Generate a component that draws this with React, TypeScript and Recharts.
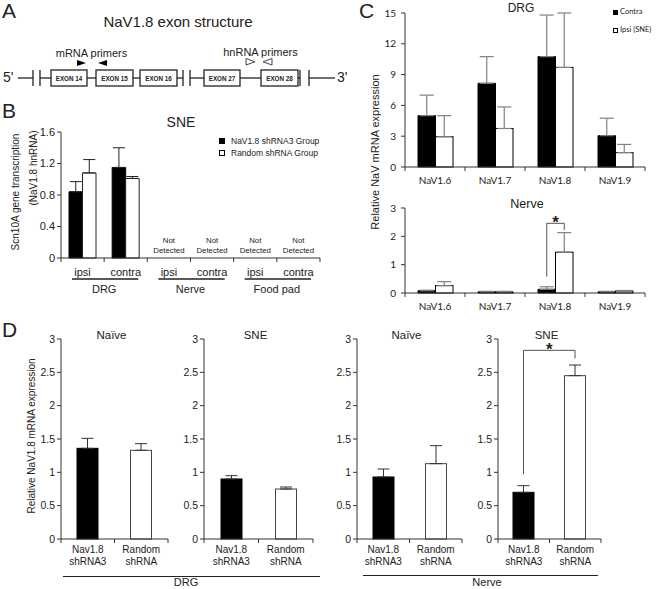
import React from 'react';
import { BarChart, Bar, XAxis, YAxis, ErrorBar, Cell, Legend } from 'recharts';

const FONT = '"Liberation Sans", Arial, Helvetica, sans-serif';
const CAL = 'Lato, "Liberation Sans", sans-serif';
const INK = '#222';
const AX = '#333';

// ---------- Panel B data ----------
const bTissues = ['DRG', 'DRG', 'Nerve', 'Nerve', 'Food pad', 'Food pad'];
const bSides = ['ipsi', 'contra', 'ipsi', 'contra', 'ipsi', 'contra'];
const bDetected = [true, true, false, false, false, false];
const bShRNA3 = [0.84, 1.15, null, null, null, null];
const bShRNA3Sd = [0.13, 0.25, null, null, null, null];
const bRandom = [1.08, 1.01, null, null, null, null];
const bRandomSd = [0.17, 0.025, null, null, null, null];
const bTicks = [0, 0.4, 0.8, 1.2, 1.6];
const bNames = ['NaV1.8 shRNA3 Group', 'Random shRNA Group'];

// ---------- Panel C data ----------
const cChannels = ['NaV1.6', 'NaV1.7', 'NaV1.8', 'NaV1.9'];
const cDrgContra = [5.0, 8.15, 10.75, 3.05];
const cDrgContraSd = [2.0, 2.6, 4.05, 1.7];
const cDrgIpsi = [2.95, 3.75, 9.7, 1.4];
const cDrgIpsiSd = [2.05, 2.1, 5.3, 0.8];
const cNerveContra = [0.08, 0.04, 0.13, 0.04];
const cNerveContraSd = [0.02, 0.02, 0.09, 0.02];
const cNerveIpsi = [0.26, 0.04, 1.44, 0.07];
const cNerveIpsiSd = [0.14, 0.02, 0.69, 0.02];
const cDrgTicks = [0, 3, 6, 9, 12, 15];
const cNerveTicks = [0, 1, 2, 3];
const cNames = ['Contra', 'Ipsi (SNE)'];
// significance bracket (category index, left low, top, right low) in data units
const cNerveSig = [2, 0.58, 2.46, 2.22];

// ---------- Panel D data ----------
const dLine1 = ['Nav1.8', 'Random'];
const dLine2 = ['shRNA3', 'shRNA'];
const dDrgNaive = [1.36, 1.33];
const dDrgNaiveSd = [0.15, 0.1];
const dDrgSne = [0.9, 0.75];
const dDrgSneSd = [0.05, 0.03];
const dNerveNaive = [0.93, 1.13];
const dNerveNaiveSd = [0.12, 0.27];
const dNerveSne = [0.7, 2.45];
const dNerveSneSd = [0.1, 0.16];
const dTicks = [0, 0.5, 1, 1.5, 2, 2.5, 3];
const dNerveSneSig = [1, 0.97, 2.83, 2.71];

// ---------- tables ----------
const bData = bSides.map((s, i) => ({
  key: `${bTissues[i]}-${s}`,
  side: s,
  tissue: bTissues[i],
  detected: bDetected[i],
  sh: bShRNA3[i],
  shErr: bShRNA3Sd[i] == null ? null : [0, bShRNA3Sd[i]],
  rnd: bRandom[i],
  rndErr: bRandomSd[i] == null ? null : [0, bRandomSd[i]],
}));

const cMake = (contra: number[], contraSd: number[], ipsi: number[], ipsiSd: number[]) =>
  cChannels.map((c, i) => ({
    key: c,
    contra: contra[i],
    contraErr: [0, contraSd[i]],
    ipsi: ipsi[i],
    ipsiErr: [0, ipsiSd[i]],
  }));
const cDrgData = cMake(cDrgContra, cDrgContraSd, cDrgIpsi, cDrgIpsiSd);
const cNerveData = cMake(cNerveContra, cNerveContraSd, cNerveIpsi, cNerveIpsiSd);

const dMake = (vals: number[], sds: number[]) =>
  dLine1.map((l1, i) => ({ key: `${l1} ${dLine2[i]}`, l1, l2: dLine2[i], value: vals[i], err: [0, sds[i]] }));
const dCharts = [
  { title: 'Naïve', data: dMake(dDrgNaive, dDrgNaiveSd), L: 61, R: 168, sig: null as any },
  { title: 'SNE', data: dMake(dDrgSne, dDrgSneSd), L: 204, R: 313, sig: null as any },
  { title: 'Naïve', data: dMake(dNerveNaive, dNerveNaiveSd), L: 357, R: 462, sig: null as any },
  { title: 'SNE', data: dMake(dNerveSne, dNerveSneSd), L: 498, R: 601, sig: dNerveSneSig },
];
const dFills = ['#000', '#fff'];
const dStrokes = ['#000', '#444'];

// ---------- layout helpers ----------
type Geo = { L: number; R: number; T: number; B: number; yW: number; mT: number; xH: number; mR: number };
const frame = (g: Geo) => ({
  left: g.L - g.yW,
  top: g.T - g.mT,
  width: g.yW + (g.R - g.L) + g.mR,
  height: g.mT + (g.B - g.T) + g.xH,
});

const bGeo: Geo = { L: 61, R: 320, T: 132, B: 258, yW: 30, mT: 8, xH: 42, mR: 4 };
const cGeo1: Geo = { L: 405, R: 645, T: 13, B: 167, yW: 30, mT: 6, xH: 24, mR: 4 };
const cGeo2: Geo = { L: 405, R: 645, T: 208, B: 293, yW: 30, mT: 6, xH: 24, mR: 4 };

// ---------- ticks ----------
const makeBTick = (band: number, n: number) => (p: any) => {
  const { x, y, index } = p;
  const d = bData[index];
  return (
    <g>
      <line x1={x - band / 2} x2={x - band / 2} y1={y} y2={y + 4} stroke={AX} />
      {index === n - 1 && <line x1={x + band / 2} x2={x + band / 2} y1={y} y2={y + 4} stroke={AX} />}
      <text x={x} y={y + 18} textAnchor="middle" fontSize={11} fill={INK}>{d.side}</text>
      {!d.detected && (
        <g>
          <text x={x} y={y - 15.3} textAnchor="middle" fontSize={7.8} fill={INK}>Not</text>
          <text x={x} y={y - 4.6} textAnchor="middle" fontSize={7.8} fill={INK}>Detected</text>
        </g>
      )}
      {index % 2 === 0 && (
        <g>
          <line x1={x - band / 2 + 11} x2={x + band * 1.5 - 9} y1={y + 21} y2={y + 21} stroke="#222" strokeWidth={1.5} />
          <text x={x + band / 2} y={y + 35} textAnchor="middle" fontSize={11} fill={INK}>{d.tissue}</text>
        </g>
      )}
    </g>
  );
};

const makeCTick = (band: number, n: number) => (p: any) => {
  const { x, y, index, payload } = p;
  return (
    <g>
      <line x1={x - band / 2} x2={x - band / 2} y1={y} y2={y + 4} stroke={AX} />
      {index === n - 1 && <line x1={x + band / 2} x2={x + band / 2} y1={y} y2={y + 4} stroke={AX} />}
      <text x={x} y={y + 17} textAnchor="middle" fontSize={10} fontFamily={CAL} fill={INK}>{payload.value}</text>
    </g>
  );
};

const makeDTick = (data: any[], band: number, n: number) => (p: any) => {
  const { x, y, index } = p;
  const d = data[index];
  return (
    <g>
      <line x1={x - band / 2} x2={x - band / 2} y1={y} y2={y + 4} stroke={AX} />
      {index === n - 1 && <line x1={x + band / 2} x2={x + band / 2} y1={y} y2={y + 4} stroke={AX} />}
      <text x={x} y={y + 13.5} textAnchor="middle" fontSize={10} fill={INK}>{d.l1}</text>
      <text x={x} y={y + 25.5} textAnchor="middle" fontSize={10} fill={INK}>{d.l2}</text>
    </g>
  );
};

// ---------- bar shape with significance bracket ----------
const makeSigShape = (valueKey: string, sig: number[] | null, leftShift: (p: any) => number) => (p: any) => {
  const rect = (
    <rect x={p.x} y={p.y} width={p.width} height={p.height} fill={p.fill} stroke={p.stroke} strokeWidth={1} />
  );
  if (!sig || p.index !== sig[0]) return rect;
  const v = p.payload[valueKey];
  const ppu = p.height / v;
  const base = p.y + p.height;
  const yv = (t: number) => base - t * ppu;
  const xr = p.x + p.width / 2;
  const xl = xr - leftShift(p);
  return (
    <g>
      {rect}
      <path
        d={`M${xl},${yv(sig[1])} V${yv(sig[2])} H${xr} V${yv(sig[3])}`}
        fill="none"
        stroke="#555"
        strokeWidth={1}
      />
      <text x={(xl + xr) / 2} y={yv(sig[2]) + 4.4} textAnchor="middle" fontSize={17} fontWeight="bold" fill={INK}>
        *
      </text>
    </g>
  );
};

// ---------- legend ----------
const makeLegend = (opts: { fontSize: number; rowH: number; sq: number; gap: number; fontFamily: string }) => (props: any) => (
  <div style={{ fontFamily: opts.fontFamily, fontSize: opts.fontSize, color: INK, lineHeight: 1 }}>
    {(props.payload || []).map((e: any, i: number) => (
      <div key={i} style={{ display: 'flex', alignItems: 'center', height: opts.rowH, whiteSpace: 'nowrap' }}>
        <span
          style={{
            display: 'inline-block',
            width: opts.sq,
            height: opts.sq,
            background: e.color,
            border: '1px solid #000',
            boxSizing: 'border-box',
            marginRight: opts.gap,
          }}
        />
        <span>{e.value}</span>
      </div>
    ))}
  </div>
);

// ---------- charts ----------
function PanelB() {
  const f = frame(bGeo);
  const band = (bGeo.R - bGeo.L) / bData.length;
  return (
    <div style={{ position: 'absolute', left: f.left, top: f.top }}>
      <BarChart
        width={f.width}
        height={f.height}
        data={bData}
        margin={{ top: bGeo.mT, right: bGeo.mR, bottom: 0, left: 0 }}
        barGap={0}
      >
        <XAxis
          dataKey="key"
          interval={0}
          height={bGeo.xH}
          tickSize={0}
          tickMargin={0}
          tickLine={false}
          axisLine={{ stroke: AX }}
          tick={makeBTick(band, bData.length)}
        />
        <YAxis
          width={bGeo.yW}
          domain={[0, 1.6]}
          ticks={bTicks}
          interval={0}
          tickSize={4}
          tickMargin={2}
          axisLine={{ stroke: AX }}
          tickLine={{ stroke: AX }}
          tick={{ fontSize: 11, fill: INK }}
        />
        <Bar dataKey="sh" name={bNames[0]} fill="#000" stroke="#000" barSize={13.5} isAnimationActive={false}>
          <ErrorBar dataKey="shErr" width={6} stroke="#222" strokeWidth={1} />
        </Bar>
        <Bar dataKey="rnd" name={bNames[1]} fill="#fff" stroke="#222" barSize={13.5} isAnimationActive={false}>
          <ErrorBar dataKey="rndErr" width={6} stroke="#222" strokeWidth={1} />
        </Bar>
        <Legend
          layout="vertical"
          align="center"
          verticalAlign="middle"
          wrapperStyle={{ position: 'absolute', left: 219 - f.left, top: 135 - f.top, width: 'auto', height: 'auto' }}
          content={makeLegend({ fontSize: 8.5, rowH: 12, sq: 6, gap: 6, fontFamily: FONT })}
        />
      </BarChart>
    </div>
  );
}

function PanelCChart(props: { geo: Geo; data: any[]; ticks: number[]; max: number; sig: number[] | null; legend: boolean }) {
  const { geo, data, ticks, max, sig, legend } = props;
  const f = frame(geo);
  const band = (geo.R - geo.L) / data.length;
  return (
    <div style={{ position: 'absolute', left: f.left, top: f.top }}>
      <BarChart
        width={f.width}
        height={f.height}
        data={data}
        margin={{ top: geo.mT, right: geo.mR, bottom: 0, left: 0 }}
        barGap={0}
      >
        <XAxis
          dataKey="key"
          interval={0}
          height={geo.xH}
          tickSize={0}
          tickMargin={0}
          tickLine={false}
          axisLine={{ stroke: AX }}
          tick={makeCTick(band, data.length)}
        />
        <YAxis
          width={geo.yW}
          domain={[0, max]}
          ticks={ticks}
          interval={0}
          tickSize={4}
          tickMargin={5}
          axisLine={{ stroke: AX }}
          tickLine={{ stroke: AX }}
          tick={{ fontSize: 10, fill: INK, fontFamily: CAL }}
        />
        <Bar dataKey="contra" name={cNames[0]} fill="#000" stroke="#000" barSize={17.5} isAnimationActive={false}>
          <ErrorBar dataKey="contraErr" width={7} stroke="#808080" strokeWidth={1.2} />
        </Bar>
        <Bar
          dataKey="ipsi"
          name={cNames[1]}
          fill="#fff"
          stroke="#000"
          barSize={17.5}
          isAnimationActive={false}
          shape={makeSigShape('ipsi', sig, (p: any) => p.width)}
        >
          <ErrorBar dataKey="ipsiErr" width={7} stroke="#808080" strokeWidth={1.2} />
        </Bar>
        {legend && (
          <Legend
            layout="vertical"
            align="center"
            verticalAlign="middle"
            wrapperStyle={{ position: 'absolute', left: 613 - f.left, top: 3 - f.top, width: 'auto', height: 'auto' }}
            content={makeLegend({ fontSize: 7.5, rowH: 18, sq: 5, gap: 2, fontFamily: CAL })}
          />
        )}
      </BarChart>
    </div>
  );
}

function PanelDChart(props: { chart: any }) {
  const { chart } = props;
  const geo: Geo = { L: chart.L, R: chart.R, T: 339, B: 539, yW: 30, mT: 6, xH: 30, mR: 4 };
  const f = frame(geo);
  const band = (geo.R - geo.L) / chart.data.length;
  return (
    <div style={{ position: 'absolute', left: f.left, top: f.top }}>
      <BarChart width={f.width} height={f.height} data={chart.data} margin={{ top: geo.mT, right: geo.mR, bottom: 0, left: 0 }}>
        <XAxis
          dataKey="key"
          interval={0}
          height={geo.xH}
          tickSize={0}
          tickMargin={0}
          tickLine={false}
          axisLine={{ stroke: AX }}
          tick={makeDTick(chart.data, band, chart.data.length)}
        />
        <YAxis
          width={geo.yW}
          domain={[0, 3]}
          ticks={dTicks}
          interval={0}
          tickSize={4}
          tickMargin={2}
          axisLine={{ stroke: AX }}
          tickLine={{ stroke: AX }}
          tick={{ fontSize: 10.5, fill: INK }}
        />
        <Bar
          dataKey="value"
          barSize={21}
          isAnimationActive={false}
          shape={makeSigShape('value', chart.sig, () => band)}
        >
          {chart.data.map((_: any, i: number) => (
            <Cell key={i} fill={dFills[i]} stroke={dStrokes[i]} />
          ))}
          <ErrorBar dataKey="err" width={6} stroke="#333" strokeWidth={1} />
        </Bar>
      </BarChart>
    </div>
  );
}

// ---------- panel A schematic + annotations ----------
function Overlay() {
  const lineY = 78;
  const boxT = 70;
  const boxH = 16;
  const exons = [
    { x: 51, w: 36, label: 'EXON 14' },
    { x: 96, w: 37, label: 'EXON 15' },
    { x: 140, w: 37, label: 'EXON 16' },
    { x: 204, w: 36, label: 'EXON 27' },
    { x: 261, w: 37, label: 'EXON 28' },
  ];
  const segs = [
    [18, 33], [40, 51], [87, 96], [133, 140], [177, 183], [190, 204], [240, 261], [298, 300], [309, 335],
  ];
  const breaks = [33, 40, 183, 190, 300, 309];
  const rot = (x: number, y: number) => `rotate(-90 ${x} ${y})`;
  return (
    <svg width={656} height={589} style={{ position: 'absolute', left: 0, top: 0, pointerEvents: 'none' }}>
      <g fontFamily={FONT} fill={INK}>
        {/* panel letters */}
        <text x={2} y={18} fontSize={21}>A</text>
        <text x={2} y={118} fontSize={21}>B</text>
        <text x={359} y={18} fontSize={21}>C</text>
        <text x={2} y={337} fontSize={21}>D</text>

        {/* panel A */}
        <text x={178} y={26.5} fontSize={15} textAnchor="middle">NaV1.8 exon structure</text>
        <text x={3} y={82} fontSize={14}>5'</text>
        <text x={337} y={82} fontSize={14}>3'</text>
        <g stroke="#222" strokeWidth={1.3} fill="none">
          {segs.map((s, i) => (
            <line key={'s' + i} x1={s[0]} x2={s[1]} y1={lineY} y2={lineY} />
          ))}
          {breaks.map((b, i) => (
            <line key={'b' + i} x1={b} x2={b} y1={boxT} y2={boxT + boxH} />
          ))}
          {exons.map((e, i) => (
            <rect key={'e' + i} x={e.x} y={boxT} width={e.w} height={boxH} fill="#fff" />
          ))}
        </g>
        {exons.map((e, i) => (
          <text key={'t' + i} x={e.x + e.w / 2} y={boxT + 10.5} fontSize={6.3} fontWeight="bold" textAnchor="middle">
            {e.label}
          </text>
        ))}
        <text x={91.5} y={57} fontSize={11} textAnchor="middle">mRNA primers</text>
        <polygon points="77,60 77,66 86,63" fill="#000" />
        <polygon points="107,60 107,66 98,63" fill="#000" />
        <text x={260.5} y={55.5} fontSize={11} textAnchor="middle">hnRNA primers</text>
        <polygon points="246,58.5 246,65 255,61.8" fill="#fff" stroke="#444" strokeWidth={1} />
        <polygon points="272,58.5 272,65 263,61.8" fill="#fff" stroke="#444" strokeWidth={1} />

        {/* panel B */}
        <text x={181} y={127} fontSize={14} textAnchor="middle">SNE</text>
        <text x={15} y={192} fontSize={10} textAnchor="middle" dominantBaseline="central" transform={rot(15, 192)}>
          Scn10A gene transcription
        </text>
        <text x={33} y={168} fontSize={10} textAnchor="middle" dominantBaseline="central" transform={rot(33, 168)}>
          (NaV1.8 hnRNA)
        </text>

        {/* panel C */}
        <text x={521} y={12} fontSize={12} textAnchor="middle">DRG</text>
        <text x={527} y={207.5} fontSize={12.5} textAnchor="middle">Nerve</text>
        <text x={375} y={152} fontSize={11} textAnchor="middle" dominantBaseline="central" transform={rot(375, 152)}>
          Relative NaV mRNA expression
        </text>

        {/* panel D */}
        {dCharts.map((c, i) => (
          <text key={'dt' + i} x={(c.L + c.R) / 2 - 3} y={339} fontSize={11.5} textAnchor="middle">
            {c.title}
          </text>
        ))}
        <text x={31} y={436} fontSize={10} textAnchor="middle" dominantBaseline="central" transform={rot(31, 436)}>
          Relative NaV1.8 mRNA expression
        </text>
        <line x1={63} x2={320} y1={576.5} y2={576.5} stroke="#222" strokeWidth={1} />
        <text x={186} y={586} fontSize={11} textAnchor="middle">DRG</text>
        <line x1={363} x2={598} y1={575.5} y2={575.5} stroke="#222" strokeWidth={1} />
        <text x={487} y={586} fontSize={11} textAnchor="middle">Nerve</text>
      </g>
    </svg>
  );
}

export default function App() {
  return (
    <div
      style={{
        position: 'absolute',
        left: 0,
        top: 0,
        width: 656,
        height: 589,
        background: '#fff',
        fontFamily: FONT,
        overflow: 'hidden',
      }}
    >
      <PanelB />
      <PanelCChart geo={cGeo1} data={cDrgData} ticks={cDrgTicks} max={15} sig={null} legend={true} />
      <PanelCChart geo={cGeo2} data={cNerveData} ticks={cNerveTicks} max={3} sig={cNerveSig} legend={false} />
      {dCharts.map((c, i) => (
        <PanelDChart key={i} chart={c} />
      ))}
      <Overlay />
    </div>
  );
}
